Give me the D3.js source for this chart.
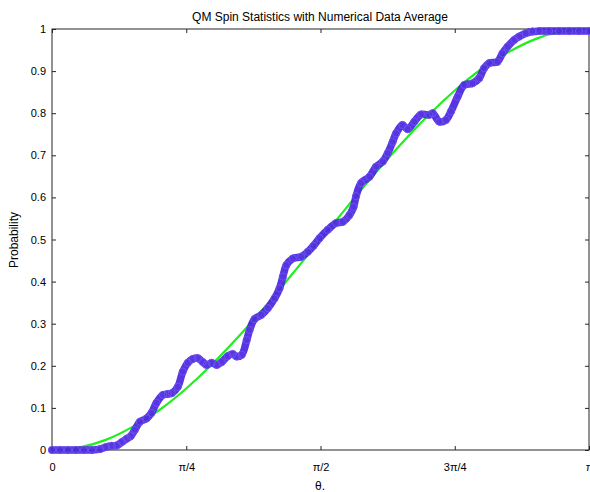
<!DOCTYPE html>
<html>
<head>
<meta charset="utf-8">
<script src="https://cdn.jsdelivr.net/npm/d3@7"></script>
<style>
  body { margin: 0; background: #fff; }
  svg { font-family: "Liberation Sans", Arial, Helvetica, sans-serif; }
</style>
</head>
<body>
<div id="chart"></div>
<script>
// QM spin statistics: theory curve vs averaged numerical data

// theta values (radians) of the numerical data
const dataTheta = [
  0, 0.047, 0.093, 0.140, 0.187, 0.234, 0.280, 0.315, 0.350, 0.380,
  0.409, 0.438, 0.461, 0.485, 0.514, 0.553, 0.582, 0.611, 0.650, 0.677,
  0.701, 0.736, 0.765, 0.794, 0.823, 0.853, 0.882, 0.905, 0.934, 0.964,
  0.993, 1.028, 1.057, 1.080, 1.110, 1.139, 1.156, 1.185, 1.225, 1.263,
  1.302, 1.331, 1.351, 1.371, 1.409, 1.458, 1.497, 1.530, 1.565, 1.613,
  1.662, 1.701, 1.740, 1.764, 1.779, 1.808, 1.857, 1.896, 1.935, 1.964,
  1.993, 2.013, 2.050, 2.081, 2.120, 2.159, 2.207, 2.227, 2.266, 2.305,
  2.334, 2.373, 2.412, 2.460, 2.499, 2.528, 2.558, 2.606, 2.635, 2.665,
  2.704, 2.733, 2.772, 2.811, 2.850, 2.908, 2.966, 3.025, 3.083, 3.142
];
// averaged probability at each theta
const dataProb = [
  0, 0, 0, 0, 0, 0, 0.002, 0.007, 0.010, 0.011,
  0.019, 0.027, 0.033, 0.048, 0.067, 0.075, 0.088, 0.112, 0.131, 0.133,
  0.135, 0.150, 0.186, 0.207, 0.216, 0.218, 0.209, 0.202, 0.207, 0.202,
  0.209, 0.223, 0.228, 0.222, 0.226, 0.261, 0.285, 0.311, 0.321, 0.337,
  0.360, 0.384, 0.412, 0.439, 0.455, 0.459, 0.471, 0.485, 0.503, 0.523,
  0.539, 0.542, 0.558, 0.577, 0.603, 0.634, 0.649, 0.673, 0.685, 0.705,
  0.732, 0.752, 0.772, 0.762, 0.780, 0.797, 0.796, 0.800, 0.780, 0.784,
  0.804, 0.839, 0.867, 0.871, 0.883, 0.907, 0.919, 0.922, 0.942, 0.958,
  0.974, 0.982, 0.990, 0.994, 0.995, 0.995, 0.995, 0.995, 0.995, 0.995
];

// theory curve, sampled every pi/20
const theoryTheta = d3.range(21).map(k => k * Math.PI / 20);
const theoryProb = [
  0, 0.006, 0.024, 0.055, 0.095, 0.146, 0.206, 0.273, 0.345, 0.422,
  0.5, 0.578, 0.655, 0.727, 0.794, 0.854, 0.905, 0.945, 0.976, 0.994, 1
];

const xTicks = [0, Math.PI / 4, Math.PI / 2, 3 * Math.PI / 4, Math.PI];
const xTickLabels = ["0", "\u03c0/4", "\u03c0/2", "3\u03c0/4", "\u03c0"];
const yTicks = d3.range(0, 1.01, 0.1);

const margin = { top: 29, right: 1, bottom: 42, left: 52 },
      width = 590 - margin.left - margin.right,
      height = 492 - margin.top - margin.bottom;

const svg = d3.select("#chart")
  .append("svg")
  .attr("width", 590)
  .attr("height", 492)
  .append("g")
  .attr("transform", `translate(${margin.left},${margin.top})`);

const x = d3.scaleLinear().domain([0, Math.PI]).range([0, width]);
const y = d3.scaleLinear().domain([0, 1]).range([height, 0]);

// axes with inward ticks (box style)
const axisColor = "#262626";
function styleAxis(g) {
  g.select(".domain").remove();
  g.selectAll("line").attr("stroke", axisColor);
  g.selectAll("text").style("font-size", "11px").attr("fill", "#000");
}

svg.append("g")
  .attr("transform", `translate(0,${height})`)
  .call(d3.axisBottom(x).tickValues(xTicks)
    .tickFormat((d, i) => xTickLabels[i]).tickSizeInner(-4).tickPadding(13))
  .call(styleAxis);

svg.append("g")
  .call(d3.axisTop(x).tickValues(xTicks).tickFormat("").tickSizeInner(-4))
  .call(styleAxis);

svg.append("g")
  .call(d3.axisLeft(y).tickValues(yTicks)
    .tickFormat(d3.format("~g")).tickSizeInner(-4).tickPadding(6))
  .call(styleAxis);

svg.append("g")
  .attr("transform", `translate(${width},0)`)
  .call(d3.axisRight(y).tickValues(yTicks).tickFormat("").tickSizeInner(-4))
  .call(styleAxis);

// box
svg.append("rect")
  .attr("width", width)
  .attr("height", height)
  .attr("fill", "none")
  .attr("stroke", axisColor)
  .attr("stroke-width", 1);

// theory line (green)
const theory = theoryTheta.map((t, i) => [t, theoryProb[i]]);
svg.append("path")
  .datum(theory)
  .attr("fill", "none")
  .attr("stroke", "#1fee1f")
  .attr("stroke-width", 2.2)
  .attr("d", d3.line().x(d => x(d[0])).y(d => y(d[1])).curve(d3.curveNatural));

// numerical data average: open circle markers
const points = dataTheta.map((t, i) => [t, dataProb[i]]);
svg.append("path")
  .datum(points)
  .attr("fill", "none")
  .attr("stroke", "#4a24e0")
  .attr("stroke-width", 7.5)
  .attr("stroke-linejoin", "round")
  .attr("stroke-linecap", "round")
  .attr("opacity", 0.92)
  .attr("d", d3.line().x(d => x(d[0])).y(d => y(d[1])).curve(d3.curveCatmullRom));

svg.selectAll("circle.pt")
  .data(points)
  .enter()
  .append("circle")
  .attr("class", "pt")
  .attr("cx", d => x(d[0]))
  .attr("cy", d => y(d[1]))
  .attr("r", 3.6)
  .attr("fill", "none")
  .attr("stroke", "#6c50f0")
  .attr("stroke-width", 1);

// title
svg.append("text")
  .attr("x", 320 - margin.left)
  .attr("y", -8)
  .attr("text-anchor", "middle")
  .style("font-size", "12px")
  .text("QM Spin Statistics with Numerical Data Average");

// axis labels
svg.append("text")
  .attr("x", 320 - margin.left)
  .attr("y", height + 40)
  .attr("text-anchor", "middle")
  .style("font-size", "12px")
  .text("\u03b8.");

svg.append("text")
  .attr("transform", "rotate(-90)")
  .attr("x", -(240 - margin.top))
  .attr("y", -34)
  .attr("text-anchor", "middle")
  .style("font-size", "12px")
  .text("Probability");
</script>
</body>
</html>
